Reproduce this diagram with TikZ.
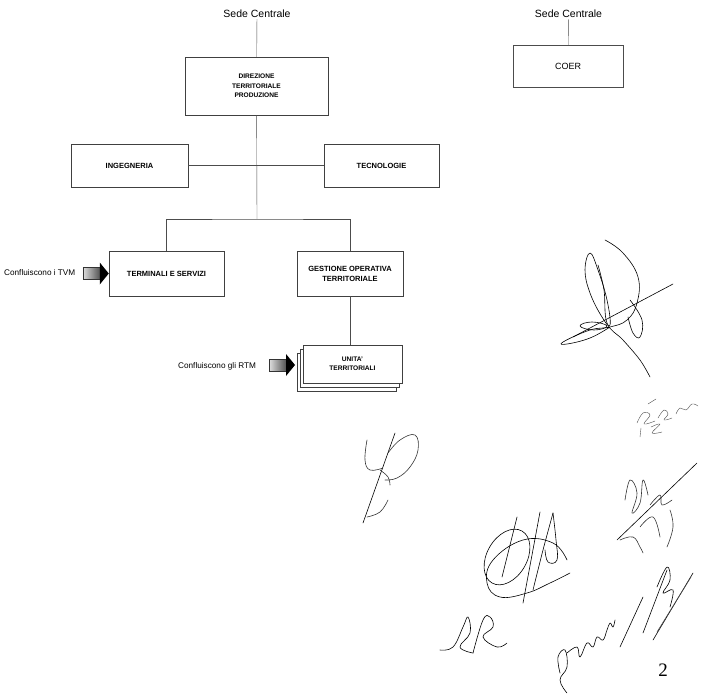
\documentclass[tikz,border=0pt]{standalone}
\usepackage{fontspec}
\setmainfont{Liberation Sans}
\newfontfamily\numfont{Liberation Serif}
\usetikzlibrary{calc}
\usetikzlibrary{shadows}

\tikzset{
  ufficio/.style={draw=black!75, line width=.5pt, fill=white, align=center, inner sep=0pt,
    font=\fontsize{7.5}{10}\selectfont\bfseries},
  piccolo/.style={font=\fontsize{6.6}{9.5}\selectfont\bfseries},
  sede/.style={font=\fontsize{10.5}{12}\selectfont, inner sep=1pt},
  nota/.style={font=\fontsize{8.2}{9}\selectfont, inner sep=0pt, anchor=west},
  linea/.style={draw=black!70, line width=.4pt},
  firma/.style={line width=.6pt, line cap=round, line join=round},
}
% freccia "clip-art" che termina nel punto #1
\newcommand{\frecciona}[1]{%
  \draw[black!80, left color=gray!25, right color=black!70] ($(#1)+(-26,-6)$) rectangle ($(#1)+(-8,6)$);
  \fill[black] ($(#1)+(-9,-11)$) -- (#1) -- ($(#1)+(-9,11)$) -- cycle;}

\begin{document}
\begin{tikzpicture}[x=1pt,y=-1pt]
		\useasboundingbox (0,0) rectangle (709,693);
		% organigramma
		\node[sede] (sede1) at (257,14) {Sede Centrale};
		\node[ufficio, piccolo, minimum width=143, minimum height=58] (dir) at (256.5,86) {DIREZIONE\\TERRITORIALE\\PRODUZIONE};
		\node[ufficio, minimum width=117, minimum height=43] (ing) at (129.5,165.5) {INGEGNERIA};
		\node[ufficio, minimum width=115, minimum height=43] (tec) at (381.5,165.5) {TECNOLOGIE};
		\node[ufficio, minimum width=115, minimum height=45] (term) at (166.5,273.5) {TERMINALI E SERVIZI};
		\node[ufficio, minimum width=106, minimum height=45] (gest) at (350,273.5) {GESTIONE OPERATIVA\\TERRITORIALE};
		\node[ufficio, piccolo, minimum width=99, minimum height=38,
		      double copy shadow={shadow xshift=-3pt, shadow yshift=-4pt, fill=white, draw=black!75, line width=.5pt}] (unita) at (352.5,364) {UNITA'\\TERRITORIALI};
		\coordinate (snodo) at (257,219);
		\draw[linea] (sede1) -- (dir);
		\draw[linea] (dir) -- (snodo);
		\draw[linea] (ing) -- (tec);
		\draw[linea] (term) |- (snodo) -| (gest);
		\draw[linea] (gest) -- (gest.south |- unita.north);
		% COER
		\node[sede] (sede2) at (568.5,14) {Sede Centrale};
		\node[draw=black!70, line width=.5pt, minimum width=110, minimum height=42,
		      font=\fontsize{9}{10}\selectfont] (coer) at (568,66.5) {COER};
		\draw[linea] (sede2) -- (coer);
		% confluenze
		\node[nota] (tvm) at (4,273) {Confluiscono i TVM};
		\frecciona{term.west}
		\node[nota] (rtm) at (178,366) {Confluiscono gli RTM};
		\coordinate (rtmpunta) at (295,365);
		\frecciona{rtmpunta}
		% firme
		\draw[firma] plot[smooth cycle, tension=.7] coordinates {(590,253) (585,270) (590,293) (602,317) (610,325) (607,300) (598,270)};
		\draw[firma] plot[smooth, tension=.7] coordinates {(605,240) (623,253) (638,277) (637,303) (627,320) (610,327) (590,330) (563,342) (567,344) (590,338) (610,327)};
		\draw[firma] plot[smooth, tension=.7] coordinates {(630,300) (642,320) (640,337) (633,333) (628,317)};
		\draw[firma] plot[smooth, tension=.6] coordinates {(598,265) (604,290) (607,323) (623,340) (640,360) (650,377)};
		\draw[firma] (573,337) -- (673,284);
		\draw[firma] plot[smooth cycle, tension=.8] coordinates {(580,326) (592,322) (607,326) (594,330)};
		\draw[firma, line width=.4pt, black!70] plot[smooth, tension=.7] coordinates {(637,423) (643,413) (650,415) (644,424) (655,421)};
		\draw[firma, line width=.4pt, black!70] (648,404) -- (656,399);
		\draw[firma, line width=.4pt, black!70] plot[smooth, tension=.7] coordinates {(658,418) (664,410) (668,414) (664,420) (672,418)};
		\draw[firma, line width=.4pt, black!70] plot[smooth, tension=.7] coordinates {(676,414) (680,408) (686,410) (692,404) (698,406)};
		\draw[firma, line width=.4pt, black!70] (641,428) -- (640,437);
		\draw[firma, line width=.4pt, black!70] plot[smooth, tension=.7] coordinates {(651,427) (660,424) (652,433) (662,432)};
		% firma P
		\draw[firma] (363,523) -- (395,433);
		\draw[firma, black!80] plot[smooth, tension=.7] coordinates {(388,453) (400,440) (415,435) (418,450) (410,467) (397,478) (385,480)};
		\draw[firma, black!80] plot[smooth, tension=.7] coordinates {(367,440) (365,460) (370,470) (383,468)};
		\draw[firma, black!80] plot[smooth, tension=.7] coordinates {(367,517) (380,512) (388,500)};
		\draw[firma, black!80] plot[smooth, tension=.7] coordinates {(380,470) (388,477) (390,485)};
		% firma con cerchio
		\draw[firma, rotate around={-30:(507,557)}] (507,557) ellipse (20 and 30);
		\draw[firma] plot[smooth, tension=.7] coordinates {(567,560) (553,543) (523,540) (493,560) (487,583) (500,597) (527,593) (550,583) (570,573)};
		\draw[firma] plot[smooth, tension=.6] coordinates {(517,517) (510,545) (502,577)};
		\draw[firma] plot[smooth, tension=.6] coordinates {(540,512) (532,555) (523,603)};
		\draw[firma] plot[smooth, tension=.6] coordinates {(553,513) (543,550) (533,590)};
		\draw[firma] plot[smooth, tension=.7] coordinates {(553,513) (556,540) (557,560) (548,562) (545,550)};
		% firma Ufe
		\draw[firma] (617,540) -- (697,463);
		\draw[firma, black!80] plot[smooth, tension=.7] coordinates {(625,500) (630,480) (637,493) (632,513) (640,503) (643,480) (648,495)};
		\draw[firma, black!80] plot[smooth, tension=.7] coordinates {(640,527) (653,517) (660,537)};
		\draw[firma, black!80] plot[smooth, tension=.7] coordinates {(667,547) (673,527) (670,510)};
		\draw[firma, black!80] plot[smooth, tension=.7] coordinates {(620,540) (633,537) (640,547) (643,553)};
		\draw[firma, black!80] plot[smooth, tension=.7] coordinates {(650,505) (660,495) (662,505) (672,500)};
		% firma AR
		\draw[firma] plot[smooth, tension=.7] coordinates {(440,650) (453,647) (463,627) (468,617) (470,633) (460,647) (473,653)};
		\draw[firma] plot[smooth, tension=.7] coordinates {(473,653) (483,620) (490,617) (493,627) (483,637) (497,647) (507,643)};
		% firma rreu/B
		\draw[firma] plot[smooth, tension=.7] coordinates {(560,673) (558,657) (565,650) (567,667) (560,680) (567,693)};
		\draw[firma] plot[smooth, tension=.7] coordinates {(567,653) (577,647) (580,657) (587,643) (593,647) (597,637) (603,640) (607,630) (610,623) (613,627) (615,620)};
		\draw[firma] (620,647) -- (643,597);
		\draw[firma] (643,633) -- (667,570);
		\draw[firma] plot[smooth, tension=.7] coordinates {(657,587) (667,567) (670,580) (663,593) (673,590) (670,607)};
		\draw[firma] (653,640) -- (693,573);
		\draw[firma, black!70] (657,632) -- (691,577);
		% pagina
		\node[font=\numfont\fontsize{19}{19}\selectfont, inner sep=0pt] (pagina) at (663,670) {2};
	\end{tikzpicture}
\end{document}
